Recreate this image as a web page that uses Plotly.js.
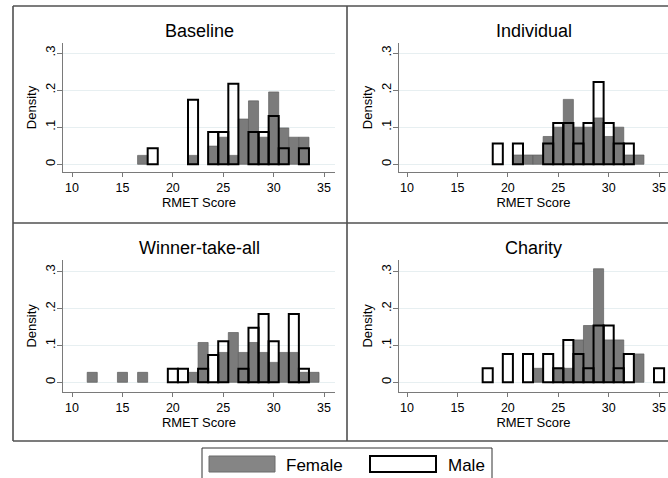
<!DOCTYPE html>
<html>
<head>
<meta charset="utf-8">
<script src="https://cdn.plot.ly/plotly-3.0.1.min.js"></script>
<style>html,body{margin:0;padding:0;background:#fff;}#chart{width:668px;height:478px;}</style>
</head>
<body>
<div id="chart"></div>
<script>
// ---- data (density by RMET score) ----
var panelTitles = ['Baseline', 'Individual', 'Winner-take-all', 'Charity'];
var xTickVals = [10, 15, 20, 25, 30, 35];
var yTickVals = [0, 0.1, 0.2, 0.3];
var yTickText = ['0', '.1', '.2', '.3'];
var legendLabels = ['Female', 'Male'];

var baselineFemaleX = [17, 22, 24, 25, 26, 27, 28, 29, 30, 31, 32, 33];
var baselineFemaleY = [0.024, 0.024, 0.049, 0.073, 0.024, 0.122, 0.171, 0.073, 0.195, 0.098, 0.073, 0.073];
var baselineMaleX = [18, 22, 24, 25, 26, 28, 29, 30, 31, 33];
var baselineMaleY = [0.043, 0.174, 0.087, 0.087, 0.217, 0.087, 0.087, 0.130, 0.043, 0.043];

var individualFemaleX = [21, 22, 23, 24, 25, 26, 27, 28, 29, 30, 31, 32, 33];
var individualFemaleY = [0.025, 0.025, 0.025, 0.075, 0.100, 0.175, 0.100, 0.100, 0.125, 0.075, 0.100, 0.025, 0.025];
var individualMaleX = [19, 21, 24, 25, 26, 27, 28, 29, 30, 31, 32];
var individualMaleY = [0.056, 0.056, 0.056, 0.111, 0.111, 0.056, 0.111, 0.222, 0.111, 0.056, 0.056];

var winnerFemaleX = [12, 15, 17, 22, 23, 25, 26, 27, 28, 29, 30, 31, 32, 33, 34];
var winnerFemaleY = [0.027, 0.027, 0.027, 0.027, 0.108, 0.081, 0.135, 0.081, 0.108, 0.081, 0.054, 0.081, 0.081, 0.027, 0.027];
var winnerMaleX = [20, 21, 23, 24, 25, 27, 28, 29, 30, 32, 33];
var winnerMaleY = [0.037, 0.037, 0.037, 0.074, 0.111, 0.037, 0.148, 0.185, 0.111, 0.185, 0.037];

var charityFemaleX = [23, 25, 26, 27, 28, 29, 30, 31, 33];
var charityFemaleY = [0.038, 0.038, 0.038, 0.115, 0.154, 0.308, 0.115, 0.115, 0.077];
var charityMaleX = [18, 20, 22, 24, 25, 26, 27, 28, 29, 30, 31, 32, 35];
var charityMaleY = [0.038, 0.077, 0.077, 0.077, 0.038, 0.115, 0.077, 0.038, 0.154, 0.154, 0.038, 0.077, 0.038];

// ---- styling / layout helpers ----
var W = 668, H = 478;
var FONT = 'Liberation Sans, Arial, Helvetica, sans-serif';
var femaleFill = '#7b7b7b', femaleLine = '#5e5e5e';
var frameColor = '#505050';
function px(x) { return x / W; }
function py(y) { return 1 - y / H; }

var femaleSets = [[baselineFemaleX, baselineFemaleY], [individualFemaleX, individualFemaleY],
                  [winnerFemaleX, winnerFemaleY], [charityFemaleX, charityFemaleY]];
var maleSets = [[baselineMaleX, baselineMaleY], [individualMaleX, individualMaleY],
                [winnerMaleX, winnerMaleY], [charityMaleX, charityMaleY]];

var data = [];
for (var i = 0; i < 4; i++) {
  var ax = i === 0 ? '' : String(i + 1);
  data.push({
    type: 'bar', x: femaleSets[i][0], y: femaleSets[i][1], width: 1,
    xaxis: 'x' + ax, yaxis: 'y' + ax, name: legendLabels[0], showlegend: false,
    marker: { color: femaleFill, line: { color: femaleLine, width: 0.7 } },
    hoverinfo: 'x+y'
  });
  data.push({
    type: 'bar', x: maleSets[i][0], y: maleSets[i][1], width: 1,
    xaxis: 'x' + ax, yaxis: 'y' + ax, name: legendLabels[1], showlegend: false,
    marker: { color: 'rgba(255,255,255,0)', line: { color: '#000000', width: 2 } },
    hoverinfo: 'x+y'
  });
}

// plot-area pixel boxes
var colL = [[63, 335], [399, 668]];
var rowT = [[42.7, 172.3], [260, 391.7]];
var xRanges = [[9.1, 9.1 + 272 / 10.08], [9.2, 9.2 + 269 / 10.08]];
var yRanges = [[-0.0216, 0.3278], [-0.0255, 0.3317]];

var layout = {
  width: W, height: H, autosize: false,
  margin: { l: 0, r: 0, t: 0, b: 0, pad: 0 },
  paper_bgcolor: '#ffffff', plot_bgcolor: '#ffffff',
  barmode: 'overlay', bargap: 0,
  font: { family: FONT, color: '#000000', size: 12 },
  showlegend: false,
  annotations: [], shapes: []
};

for (var k = 0; k < 4; k++) {
  var col = k % 2, row = Math.floor(k / 2);
  var sfx = k === 0 ? '' : String(k + 1);
  layout['xaxis' + sfx] = {
    domain: [px(colL[col][0]), px(colL[col][1])],
    range: xRanges[col], anchor: 'y' + sfx,
    tickmode: 'array', tickvals: xTickVals,
    ticks: 'outside', ticklen: 4, tickwidth: 1, tickcolor: '#777777',
    showline: true, linecolor: '#7a7a7a', linewidth: 1,
    showgrid: false, zeroline: false,
    tickfont: { family: FONT, size: 12.5, color: '#000' },
    title: { text: 'RMET Score', font: { family: FONT, size: 13, color: '#000' }, standoff: 0 }
  };
  layout['yaxis' + sfx] = {
    domain: [py(rowT[row][1]), py(rowT[row][0])],
    range: yRanges[row], anchor: 'x' + sfx,
    tickmode: 'array', tickvals: yTickVals, ticktext: yTickText, tickangle: -90,
    ticks: 'outside', ticklen: 5, tickwidth: 1, tickcolor: '#777777',
    ticklabelstandoff: -3,
    showline: true, linecolor: '#7a7a7a', linewidth: 1,
    showgrid: true, gridcolor: '#e7eff1', gridwidth: 1, zeroline: false,
    tickfont: { family: FONT, size: 13, color: '#000' },
    title: { text: 'Density', font: { family: FONT, size: 13, color: '#000' }, standoff: 3 }
  };
  layout.annotations.push({
    xref: 'paper', yref: 'paper',
    x: px((colL[col][0] + colL[col][1]) / 2),
    y: py(row === 0 ? 31 : 248),
    xanchor: 'center', yanchor: 'middle', showarrow: false,
    text: panelTitles[k], font: { family: FONT, size: 18, color: '#000' }
  });
}

// outer frame & dividers
function line(x0, y0, x1, y1, c, w) {
  return { type: 'line', xref: 'paper', yref: 'paper', x0: px(x0), y0: py(y0), x1: px(x1), y1: py(y1),
           line: { color: c, width: w } };
}
layout.shapes.push(line(13, 6, 13, 441, frameColor, 1.6));
layout.shapes.push(line(13, 6, 668, 6, frameColor, 1.6));
layout.shapes.push(line(13, 441, 668, 441, frameColor, 1.6));
layout.shapes.push(line(347, 6, 347, 441, frameColor, 1.6));
layout.shapes.push(line(13, 223, 668, 223, frameColor, 1.6));

// legend box
layout.shapes.push({ type: 'rect', xref: 'paper', yref: 'paper',
  x0: px(202), x1: px(492), y0: py(448), y1: py(495), line: { color: '#333333', width: 1 }, fillcolor: 'rgba(0,0,0,0)' });
layout.shapes.push({ type: 'rect', xref: 'paper', yref: 'paper',
  x0: px(209), x1: px(275), y0: py(456), y1: py(472), line: { color: '#6a6a6a', width: 1 }, fillcolor: '#858585' });
layout.shapes.push({ type: 'rect', xref: 'paper', yref: 'paper',
  x0: px(370), x1: px(436), y0: py(456), y1: py(472), line: { color: '#000000', width: 2 }, fillcolor: '#ffffff' });
layout.annotations.push({ xref: 'paper', yref: 'paper', x: px(284), y: py(465), xanchor: 'left', yanchor: 'middle',
  showarrow: false, text: legendLabels[0], font: { family: FONT, size: 17, color: '#000' } });
layout.annotations.push({ xref: 'paper', yref: 'paper', x: px(446), y: py(465), xanchor: 'left', yanchor: 'middle',
  showarrow: false, text: legendLabels[1], font: { family: FONT, size: 17, color: '#000' } });

Plotly.newPlot('chart', data, layout, { displayModeBar: false, staticPlot: true });
</script>
</body>
</html>
